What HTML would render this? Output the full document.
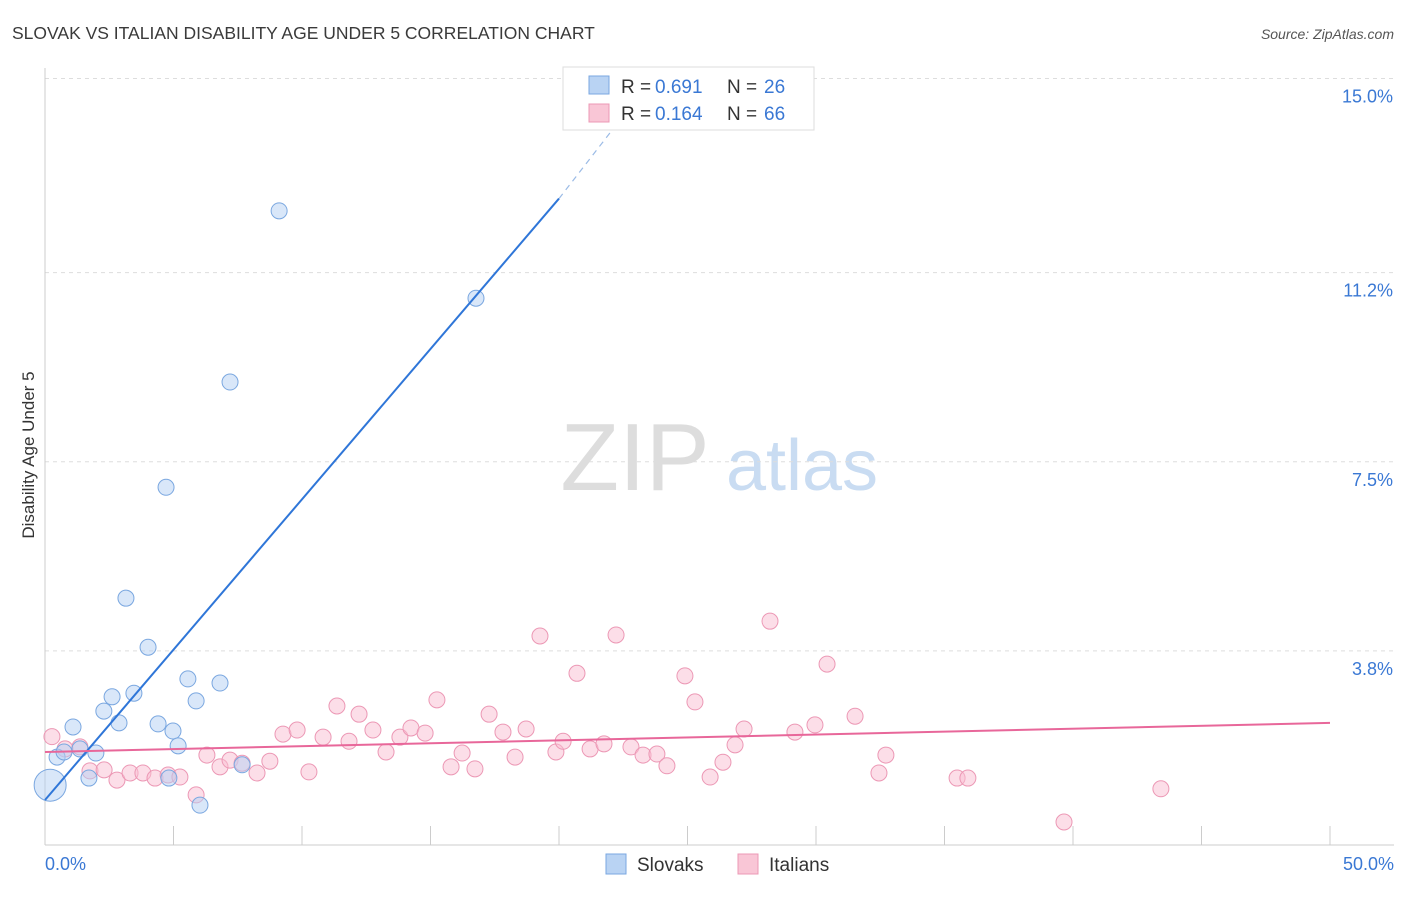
<!DOCTYPE html>
<html><head><meta charset="utf-8"><style>
body{margin:0;background:#fff;font-family:"Liberation Sans",sans-serif;}
svg text{font-family:"Liberation Sans",sans-serif;}
</style></head><body>
<svg id="c" width="1406" height="892" xmlns="http://www.w3.org/2000/svg">
<text x="12" y="39" font-size="17.5" fill="#3a3a3a">SLOVAK VS ITALIAN DISABILITY AGE UNDER 5 CORRELATION CHART</text>
<text x="1394" y="39" font-size="14" fill="#555" font-style="italic" text-anchor="end">Source: ZipAtlas.com</text>
<text x="34" y="455" font-size="17" fill="#333" text-anchor="middle" transform="rotate(-90 34 455)">Disability Age Under 5</text>
<g><text x="635" y="490" font-size="96" fill="#ddd" font-family="Liberation Serif" text-anchor="middle">ZIP</text><text x="802" y="490" font-size="72" fill="#c9dcf2" text-anchor="middle">atlas</text></g>
<g id="grid"></g><g id="axes"></g><g id="marks"></g>
<g>
<rect x="563" y="67" width="251" height="63" fill="#fff" stroke="#ddd"/>
<rect x="589" y="76" width="20" height="18" fill="#b9d3f3" stroke="#7aa7e0"/>
<rect x="589" y="104" width="20" height="18" fill="#f9c6d6" stroke="#ec98b5"/>
<text x="621" y="93" font-size="19" fill="#333">R = </text><text x="655" y="93" font-size="19" fill="#3a78d4">0.691</text>
<text x="727" y="93" font-size="19" fill="#333">N = </text><text x="764" y="93" font-size="19" fill="#3a78d4">26</text>
<text x="621" y="120" font-size="19" fill="#333">R = </text><text x="655" y="120" font-size="19" fill="#3a78d4">0.164</text>
<text x="727" y="120" font-size="19" fill="#333">N = </text><text x="764" y="120" font-size="19" fill="#3a78d4">66</text>
</g>
<g>
<rect x="606" y="854" width="20" height="20" fill="#b9d3f3" stroke="#7aa7e0"/><text x="637" y="871" font-size="19" fill="#333">Slovaks</text>
<rect x="738" y="854" width="20" height="20" fill="#f9c6d6" stroke="#ec98b5"/><text x="769" y="871" font-size="19" fill="#333">Italians</text>
</g>
</svg>
<script>
const yTicks=[3.8,7.5,11.2,15.0];
const yTickLabels=["3.8%","7.5%","11.2%","15.0%"];
const xTicks=[0,5,10,15,20,25,30,35,40,45,50];
const slovakX=[0.2,0.47,1.09,0.74,1.36,1.71,1.98,2.29,2.61,2.88,3.15,3.46,4.01,4.4,4.71,4.98,5.18,5.56,5.88,6.03,6.81,7.2,7.67,9.11,16.77,4.82];
const slovakY=[1.17,1.72,2.31,1.82,1.88,1.31,1.8,2.62,2.9,2.39,4.83,2.97,3.87,2.37,7.0,2.23,1.94,3.25,2.82,0.78,3.17,9.06,1.57,12.41,10.7,1.31];
const italianX=[0.27,0.78,1.36,1.75,2.3,2.8,3.31,3.81,4.28,4.79,5.25,5.88,6.3,6.81,7.2,7.67,8.25,8.75,9.26,9.81,10.27,10.82,11.36,11.83,12.22,12.76,13.27,13.81,14.24,14.79,15.25,15.8,16.23,16.73,17.28,17.82,18.29,18.72,19.26,19.88,20.16,20.7,21.21,21.75,22.22,22.8,23.27,23.81,24.2,24.9,25.29,25.88,26.38,26.85,27.2,28.21,29.18,29.96,30.43,31.52,32.45,32.72,35.49,35.91,39.65,43.42];
const italianY=[2.12,1.88,1.92,1.45,1.47,1.27,1.41,1.41,1.31,1.37,1.33,0.98,1.76,1.53,1.66,1.6,1.41,1.64,2.17,2.25,1.43,2.11,2.72,2.03,2.56,2.25,1.82,2.11,2.29,2.19,2.84,1.53,1.8,1.49,2.56,2.21,1.72,2.27,4.09,1.82,2.03,3.36,1.88,1.98,4.11,1.92,1.76,1.78,1.55,3.31,2.8,1.33,1.62,1.96,2.27,4.38,2.21,2.35,3.54,2.52,1.41,1.76,1.31,1.31,0.45,1.1];
const blueLine=[0,0.88,20,12.65];const blueDash=[20,12.65,22.7,14.4];
const pinkLine=[0,1.82,50,2.39];
const NS='http://www.w3.org/2000/svg';
const X=v=>45+v*25.7, Y=v=>845-v*51.1;
function mk(t,a,p){const e=document.createElementNS(NS,t);for(const k in a)e.setAttribute(k,a[k]);document.getElementById(p).appendChild(e);return e;}
yTicks.forEach((t,i)=>{
 const g=mk('line',{x1:45,x2:1394,y1:Y(t),y2:Y(t),stroke:'#ddd','stroke-dasharray':'4,4'},'grid');
 
 
 const l=mk('text',{x:1393,y:Y(t)+24,'font-size':18,fill:'#3a78d4','text-anchor':'end'},'axes');l.textContent=yTickLabels[i];
 
 
});
mk('line',{x1:45,x2:45,y1:68,y2:845,stroke:'#ccc'},'axes');
mk('line',{x1:45,x2:1394,y1:845,y2:845,stroke:'#ccc'},'axes');
xTicks.forEach(t=>{const e=mk('line',{x1:X(t),x2:X(t),y1:826,y2:845,stroke:'#ccc'},'axes');
 
 });
let a=mk('text',{x:45,y:870,'font-size':18,fill:'#3a78d4'},'axes');a.textContent='0.0%';


a=mk('text',{x:1394,y:870,'font-size':18,fill:'#3a78d4','text-anchor':'end'},'axes');a.textContent='50.0%';


italianX.forEach((x,i)=>{const c=mk('circle',{cx:X(x),cy:Y(italianY[i]),r:8,fill:'rgba(249,190,210,0.5)',stroke:'#ec98b5','stroke-width':1},'marks');
 
 });
slovakX.forEach((x,i)=>{const c=mk('circle',{cx:X(x),cy:Y(slovakY[i]),r:i==0?16:8,fill:'rgba(180,208,243,0.5)',stroke:'#7aa7e0','stroke-width':1},'marks');
 
 });
let ln=mk('line',{x1:X(blueLine[0]),y1:Y(blueLine[1]),x2:X(blueLine[2]),y2:Y(blueLine[3]),stroke:'#2f76d8','stroke-width':2},'marks');


ln=mk('line',{x1:X(blueDash[0]),y1:Y(blueDash[1]),x2:X(blueDash[2]),y2:Y(blueDash[3]),stroke:'#9bbbe6','stroke-width':1.2,'stroke-dasharray':'6,5'},'marks');


ln=mk('line',{x1:X(pinkLine[0]),y1:Y(pinkLine[1]),x2:X(pinkLine[2]),y2:Y(pinkLine[3]),stroke:'#e8679a','stroke-width':2},'marks');


</script>
</body></html>
